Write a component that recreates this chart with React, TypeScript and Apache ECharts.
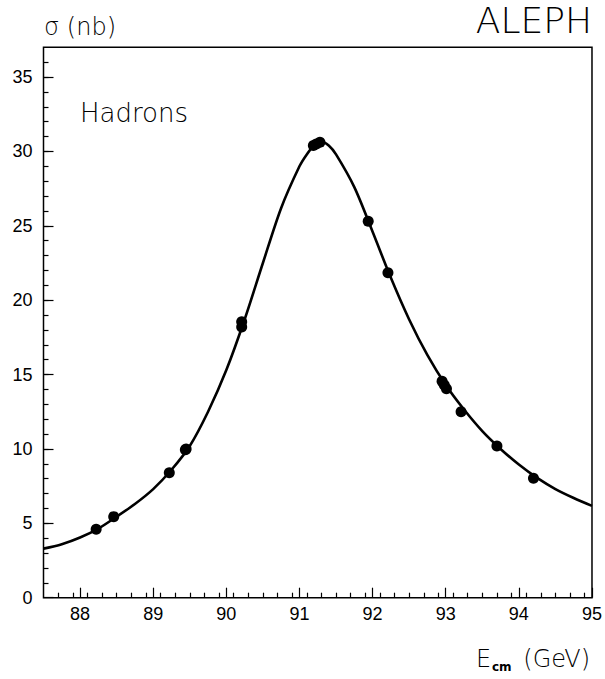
import React, { useEffect, useRef } from "react";
import * as echarts from "echarts";

// Fitted line-shape curve
const curveEnergy = [87.5, 87.75, 88.0, 88.25, 88.5, 88.75, 89.0, 89.25, 89.5, 89.75, 90.0, 90.25, 90.5, 90.75, 91.0, 91.1, 91.2, 91.3, 91.4, 91.5, 91.75, 92.0, 92.25, 92.5, 92.75, 93.0, 93.25, 93.5, 93.75, 94.0, 94.25, 94.5, 94.75, 95.0];
const curveSigma = [3.3, 3.6, 4.05, 4.65, 5.45, 6.3, 7.3, 8.6, 10.2, 12.5, 15.3, 18.7, 22.5, 26.2, 29.0, 29.8, 30.4, 30.65, 30.4, 29.8, 27.6, 24.6, 21.5, 18.7, 16.3, 14.3, 12.65, 11.2, 10.0, 8.95, 8.05, 7.3, 6.7, 6.17];

// Measured points
const pointEnergy = [88.22, 88.46, 89.22, 89.44, 89.45, 90.21, 90.21, 91.19, 91.23, 91.28, 91.94, 92.21, 92.95, 92.98, 93.01, 93.21, 93.7, 94.2];
const pointSigma = [4.6, 5.45, 8.4, 9.95, 10.0, 18.55, 18.2, 30.4, 30.5, 30.62, 25.3, 21.85, 14.55, 14.3, 14.05, 12.5, 10.2, 8.03];

// Axis ticks
const xMajorTicks = [88, 89, 90, 91, 92, 93, 94, 95];
const yMajorTicks = [0, 5, 10, 15, 20, 25, 30, 35];
const xMinorTicks: number[] = [];
for (let i = 1; i < 38; i++) xMinorTicks.push(Math.round((87.5 + i * 0.2) * 10) / 10);
const yMinorTicks: number[] = [];
for (let i = 1; i <= 36; i++) yMinorTicks.push(i);

const X_MIN = 87.5;
const X_MAX = 95;
const Y_MIN = 0;
const Y_MAX = 37;

export default function App() {
  const ref = useRef<HTMLDivElement>(null);
  useEffect(() => {
    if (!ref.current) return;
    const chart = echarts.init(ref.current, null, { renderer: "svg" });
    const labelFont = { fontFamily: "Liberation Sans", fontSize: 18, color: "#000" };
    chart.setOption({
      animation: false,
      backgroundColor: "#fff",
      grid: {
        left: 43.5,
        top: 47.3,
        right: 11.7,
        bottom: 81.3,
        show: true,
        borderColor: "#000",
        borderWidth: 1.5,
        backgroundColor: "transparent",
      },
      xAxis: [
        {
          type: "value",
          min: X_MIN,
          max: X_MAX,
          position: "bottom",
          axisLine: { show: false },
          splitLine: { show: false },
          axisTick: { show: true, inside: true, length: 10, customValues: xMajorTicks, lineStyle: { color: "#000", width: 1.2 } },
          axisLabel: { show: true, customValues: xMajorTicks, margin: 7, ...labelFont, formatter: (v: number) => String(v) },
        },
        {
          type: "value",
          min: X_MIN,
          max: X_MAX,
          position: "bottom",
          axisLine: { show: false },
          splitLine: { show: false },
          axisTick: { show: true, inside: true, length: 5, customValues: xMinorTicks, lineStyle: { color: "#000", width: 1.2 } },
          axisLabel: { show: false },
        },
      ],
      yAxis: [
        {
          type: "value",
          min: Y_MIN,
          max: Y_MAX,
          position: "left",
          axisLine: { show: false },
          splitLine: { show: false },
          axisTick: { show: true, inside: true, length: 10, customValues: yMajorTicks, lineStyle: { color: "#000", width: 1.2 } },
          axisLabel: { show: true, customValues: yMajorTicks, margin: 11, ...labelFont },
        },
        {
          type: "value",
          min: Y_MIN,
          max: Y_MAX,
          position: "left",
          axisLine: { show: false },
          splitLine: { show: false },
          axisTick: { show: true, inside: true, length: 5, customValues: yMinorTicks, lineStyle: { color: "#000", width: 1.2 } },
          axisLabel: { show: false },
        },
      ],
      series: [
        {
          type: "line",
          xAxisIndex: 0,
          yAxisIndex: 0,
          data: curveEnergy.map((e, i) => [e, curveSigma[i]]),
          smooth: 0.3,
          showSymbol: false,
          symbol: "none",
          lineStyle: { color: "#000", width: 2.6 },
          silent: true,
          clip: true,
        },
        {
          type: "scatter",
          xAxisIndex: 0,
          yAxisIndex: 0,
          data: pointEnergy.map((e, i) => [e, pointSigma[i]]),
          symbol: "circle",
          symbolSize: 11,
          itemStyle: { color: "#000", opacity: 1 },
        },
      ],
      graphic: [
        {
          type: "text",
          x: 44,
          y: 27,
          style: { text: "σ (nb)", fontFamily: "DejaVu Sans", fontWeight: 200, fontSize: 24, fill: "#000", align: "left", verticalAlign: "middle" },
        },
        {
          type: "text",
          x: 592,
          y: 20,
          style: { text: "ALEPH", fontFamily: "DejaVu Sans", fontWeight: 200, fontSize: 36, fill: "#000", align: "right", verticalAlign: "middle" },
        },
        {
          type: "text",
          x: 80,
          y: 113,
          style: { text: "Hadrons", fontFamily: "DejaVu Sans", fontWeight: 200, fontSize: 26, fill: "#000", align: "left", verticalAlign: "middle" },
        },
        {
          type: "text",
          x: 476,
          y: 659,
          style: { text: "E", fontFamily: "DejaVu Sans", fontWeight: 200, fontSize: 24, fill: "#000", align: "left", verticalAlign: "middle" },
        },
        {
          type: "text",
          x: 492,
          y: 667,
          style: { text: "cm", fontFamily: "DejaVu Sans", fontWeight: "bold", fontSize: 12, fill: "#000", align: "left", verticalAlign: "middle" },
        },
        {
          type: "text",
          x: 590,
          y: 659,
          style: { text: "(GeV)", fontFamily: "DejaVu Sans", fontWeight: 200, fontSize: 24, fill: "#000", align: "right", verticalAlign: "middle" },
        },
      ],
    });
    return () => chart.dispose();
  }, []);
  return (
    <div
      ref={ref}
      style={{ position: "fixed", left: 0, top: 0, width: 605, height: 679, background: "#fff" }}
    />
  );
}
